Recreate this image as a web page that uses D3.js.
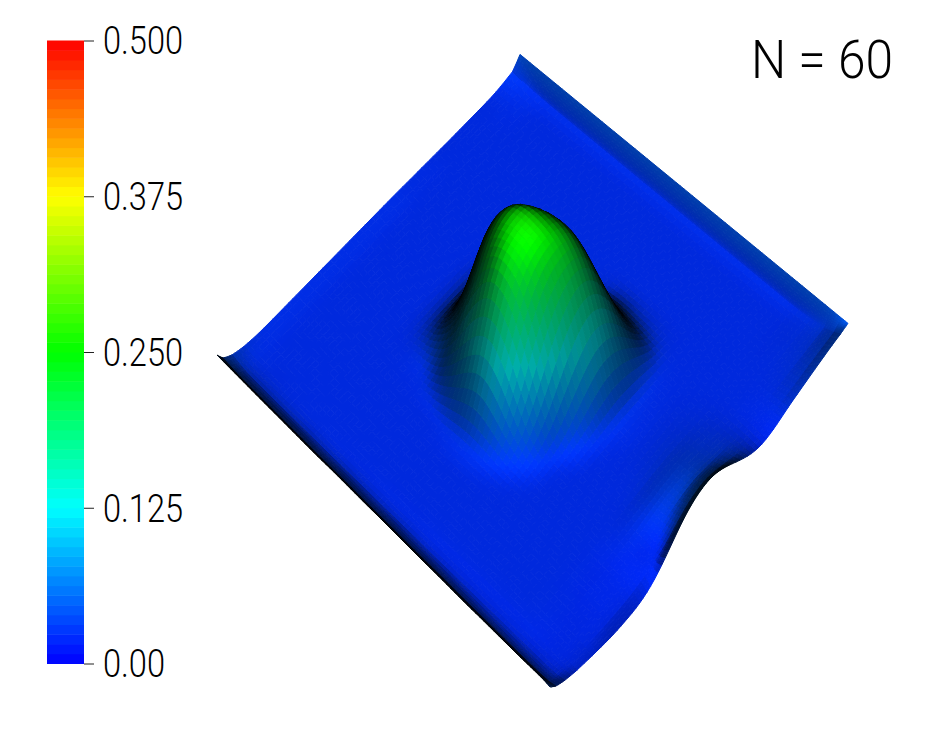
<!DOCTYPE html>
<html>
<head>
<meta charset="utf-8">
<script src="https://cdn.jsdelivr.net/npm/d3@7"></script>
<style>
html, body { margin: 0; background: #fff; }
text { font-family: Roboto, sans-serif; font-weight: 300; fill: #000; }
</style>
</head>
<body>
<div id="chart"></div>
<script>
// legend
const tickValues = [0, 0.125, 0.25, 0.375, 0.5];
const tickLabels = ["0.00", "0.125", "0.250", "0.375", "0.500"];
const rampColors = ["#0000ff", "#00ffff", "#00ff00", "#ffff00", "#ff0000"];
const title = "N = 60";

// surface parameters read along each side of the square
const uKnots = [0, .02, .05, .09, .14, .2, .25, .3, .35, .4, .45, .5, .55, .6, .65, .7, .75, .8, .86, .92, .975, .9875, 1];
const vKnots = [0, .04, .09, .14, .2, .25, .3, .35, .4, .45, .5, .55, .6, .65, .7, .75, .8, .86, .91, .95, .98, 1];

// surface heights, one row per vKnot, one column per uKnot
const heightRows = [
  [.060,.044,.034,.028,.025,.025,.025,.025,.025,.025,.025,.025,.025,.025,.024,.024,.023,.023,.023,.023,.030,.037,.046],
  [.059,.040,.026,.023,.023,.023,.023,.023,.023,.023,.023,.023,.023,.023,.023,.023,.023,.023,.023,.024,.026,.034,.046],
  [.058,.039,.025,.023,.023,.023,.023,.023,.023,.023,.023,.023,.023,.023,.023,.023,.023,.023,.023,.023,.023,.034,.046],
  [.057,.038,.024,.023,.023,.023,.023,.023,.023,.023,.023,.023,.023,.023,.023,.023,.023,.023,.023,.023,.023,.034,.046],
  [.056,.037,.023,.023,.023,.023,.023,.023,.023,.023,.023,.023,.023,.023,.023,.023,.023,.023,.023,.023,.023,.034,.046],
  [.055,.036,.023,.023,.023,.023,.023,.023,.023,.023,.023,.023,.023,.023,.023,.023,.023,.023,.023,.023,.023,.034,.046],
  [.054,.035,.022,.023,.023,.023,.023,.023,.025,.036,.042,.040,.040,.023,.023,.023,.023,.023,.023,.023,.023,.034,.046],
  [.054,.035,.022,.023,.023,.023,.023,.023,.027,.070,.120,.200,.150,.045,.023,.023,.023,.023,.023,.023,.023,.034,.046],
  [.053,.034,.022,.023,.023,.023,.023,.023,.058,.158,.237,.250,.240,.120,.024,.023,.023,.023,.023,.023,.023,.034,.046],
  [.052,.033,.021,.023,.023,.023,.023,.028,.105,.228,.254,.260,.255,.210,.060,.023,.023,.023,.023,.023,.023,.034,.046],
  [.052,.033,.021,.023,.023,.023,.023,.033,.133,.226,.252,.260,.252,.225,.140,.025,.023,.023,.023,.023,.023,.034,.046],
  [.051,.032,.021,.023,.023,.023,.023,.030,.085,.175,.233,.247,.244,.222,.120,.045,.023,.023,.023,.023,.023,.034,.046],
  [.050,.031,.020,.023,.023,.023,.023,.024,.040,.085,.150,.195,.205,.175,.110,.036,.023,.023,.023,.023,.023,.034,.046],
  [.050,.031,.020,.023,.023,.023,.023,.023,.024,.026,.050,.085,.110,.100,.065,.030,.023,.023,.023,.023,.023,.034,.046],
  [.049,.030,.020,.023,.023,.023,.023,.023,.023,.023,.024,.026,.028,.027,.027,.024,.023,.023,.023,.023,.023,.034,.046],
  [.048,.029,.020,.023,.023,.023,.023,.023,.023,.023,.023,.023,.024,.024,.023,.023,.023,.023,.023,.023,.023,.034,.046],
  [.048,.029,.020,.023,.023,.023,.023,.023,.023,.023,.023,.023,.023,.023,.023,.023,.023,.023,.023,.023,.023,.034,.046],
  [.047,.028,.020,.023,.023,.023,.023,.023,.023,.023,.024,.026,.027,.026,.024,.023,.023,.023,.023,.023,.023,.034,.046],
  [.047,.028,.020,.021,.022,.021,.021,.021,.024,.027,.032,.035,.035,.030,.026,.023,.023,.023,.024,.025,.026,.034,.046],
  [.047,.028,.020,.021,.020,.018,.018,.018,.021,.021,.030,.036,.038,.032,.028,.022,.022,.024,.026,.028,.029,.036,.046],
  [.047,.029,.021,.020,.016,.014,.012,.012,.017,.016,.036,.050,.053,.041,.030,.020,.021,.026,.030,.034,.037,.040,.046],
  [.045,.034,.026,.018,.012,.004,.002,.001,.010,.032,.056,.068,.068,.052,.032,.018,.020,.028,.034,.040,.044,.045,.046]
];

const width = 938, height = 736;
const svg = d3.select("#chart").append("svg").attr("width", width).attr("height", height);

// value -> colour, the legend shows it in 64 flat levels
const ramp = d3.scaleLinear().domain(tickValues).range(rampColors);
const levels = d3.range(64);
const levelColor = d3.scaleQuantize().domain([0, 0.5]).range(levels.map(i => ramp((i + 0.5) / 64 * 0.5)));

// the square on the ground plane, corners on the page at height 0
const corners = { L: [217, 391], T: [520, 82], B: [550, 714], R: [848, 351] };
const tilt = Math.PI / 6;
const lift = d3.scaleLinear().domain([0, 1]).range([0, 600]);
const uAt = d3.scaleLinear().domain(d3.range(uKnots.length)).range(uKnots);
const vAt = d3.scaleLinear().domain(d3.range(vKnots.length)).range(vKnots);

const sub = 4;
const nu = (uKnots.length - 1) * sub, nv = (vKnots.length - 1) * sub;
const rowSplines = heightRows.map(r => d3.interpolateBasis(r));

const nodes = [];
for (let i = 0; i <= nu; i++) {
    const col = rowSplines.map(f => f(i / nu));
    const colSpline = d3.interpolateBasis(col);
    nodes.push(d3.range(nv + 1).map(j => {
        const u = uAt(i / sub), v = vAt(j / sub), z = colSpline(j / nv);
        const x = (1 - v) * ((1 - u) * corners.L[0] + u * corners.T[0]) + v * ((1 - u) * corners.B[0] + u * corners.R[0]);
        const y = (1 - v) * ((1 - u) * corners.L[1] + u * corners.T[1]) + v * ((1 - u) * corners.B[1] + u * corners.R[1]);
        return { z, p: [x, y - lift(z), y * Math.tan(tilt) + lift(z) / Math.tan(tilt)] };
    }));
}

const quads = [];
for (let i = 0; i < nu; i++) {
    for (let j = 0; j < nv; j++) {
        const a = nodes[i][j], b = nodes[i + 1][j], c = nodes[i + 1][j + 1], d = nodes[i][j + 1];
        const e = [0, 1, 2].map(k => c.p[k] - a.p[k]), f = [0, 1, 2].map(k => d.p[k] - b.p[k]);
        const n = [e[1] * f[2] - e[2] * f[1], e[2] * f[0] - e[0] * f[2], e[0] * f[1] - e[1] * f[0]];
        const shade = Math.abs(n[2]) / (Math.hypot(n[0], n[1], n[2]) || 1);
        // the dip along the lower right side keeps the colour of the plane
        const rgb = d3.rgb(ramp(Math.max((a.z + b.z + c.z + d.z) / 4, 0.021)));
        quads.push({
            pts: [a, b, c, d].map(q => [q.p[0], q.p[1]]),
            depth: (a.p[2] + b.p[2] + c.p[2] + d.p[2]) / 4,
            fill: d3.rgb(rgb.r * shade, rgb.g * shade, rgb.b * shade).formatHex()
        });
    }
}
quads.sort((p, q) => p.depth - q.depth);

const line = d3.line();
svg.append("g").attr("class", "surface")
    .selectAll("path")
    .data(quads)
    .join("path")
    .attr("d", d => line(d.pts) + "Z")
    .attr("fill", d => d.fill)
    .attr("stroke", d => d.fill)
    .attr("stroke-width", 1);

// colour bar
const y = d3.scaleLinear().domain([0, 0.5]).range([663.5, 40.5]);
const bar = svg.append("g").attr("class", "legend");
bar.selectAll("rect")
    .data(levels)
    .join("rect")
    .attr("x", 47)
    .attr("width", 37)
    .attr("y", i => y((i + 1) / 64 * 0.5))
    .attr("height", i => y(i / 64 * 0.5) - y((i + 1) / 64 * 0.5) + 0.5)
    .attr("fill", i => levelColor((i + 0.5) / 64 * 0.5));

const axis = svg.append("g")
    .attr("transform", "translate(84,0)")
    .call(d3.axisRight(y).tickValues(tickValues).tickSize(10).tickPadding(9).tickFormat((d, i) => tickLabels[i]));
axis.select(".domain").remove();
axis.selectAll("line").attr("stroke", "#222");
axis.selectAll("text")
    .style("font-size", "38px")
    .attr("fill", "#000")
    .attr("dy", "0.35em")
    .attr("textLength", (d, i) => tickLabels[i].length === 4 ? 62 : 80)
    .attr("lengthAdjust", "spacingAndGlyphs");

svg.append("text")
    .attr("x", 751)
    .attr("y", 78)
    .style("font-size", "54px")
    .attr("textLength", 142)
    .attr("lengthAdjust", "spacingAndGlyphs")
    .text(title);
</script>
</body>
</html>
